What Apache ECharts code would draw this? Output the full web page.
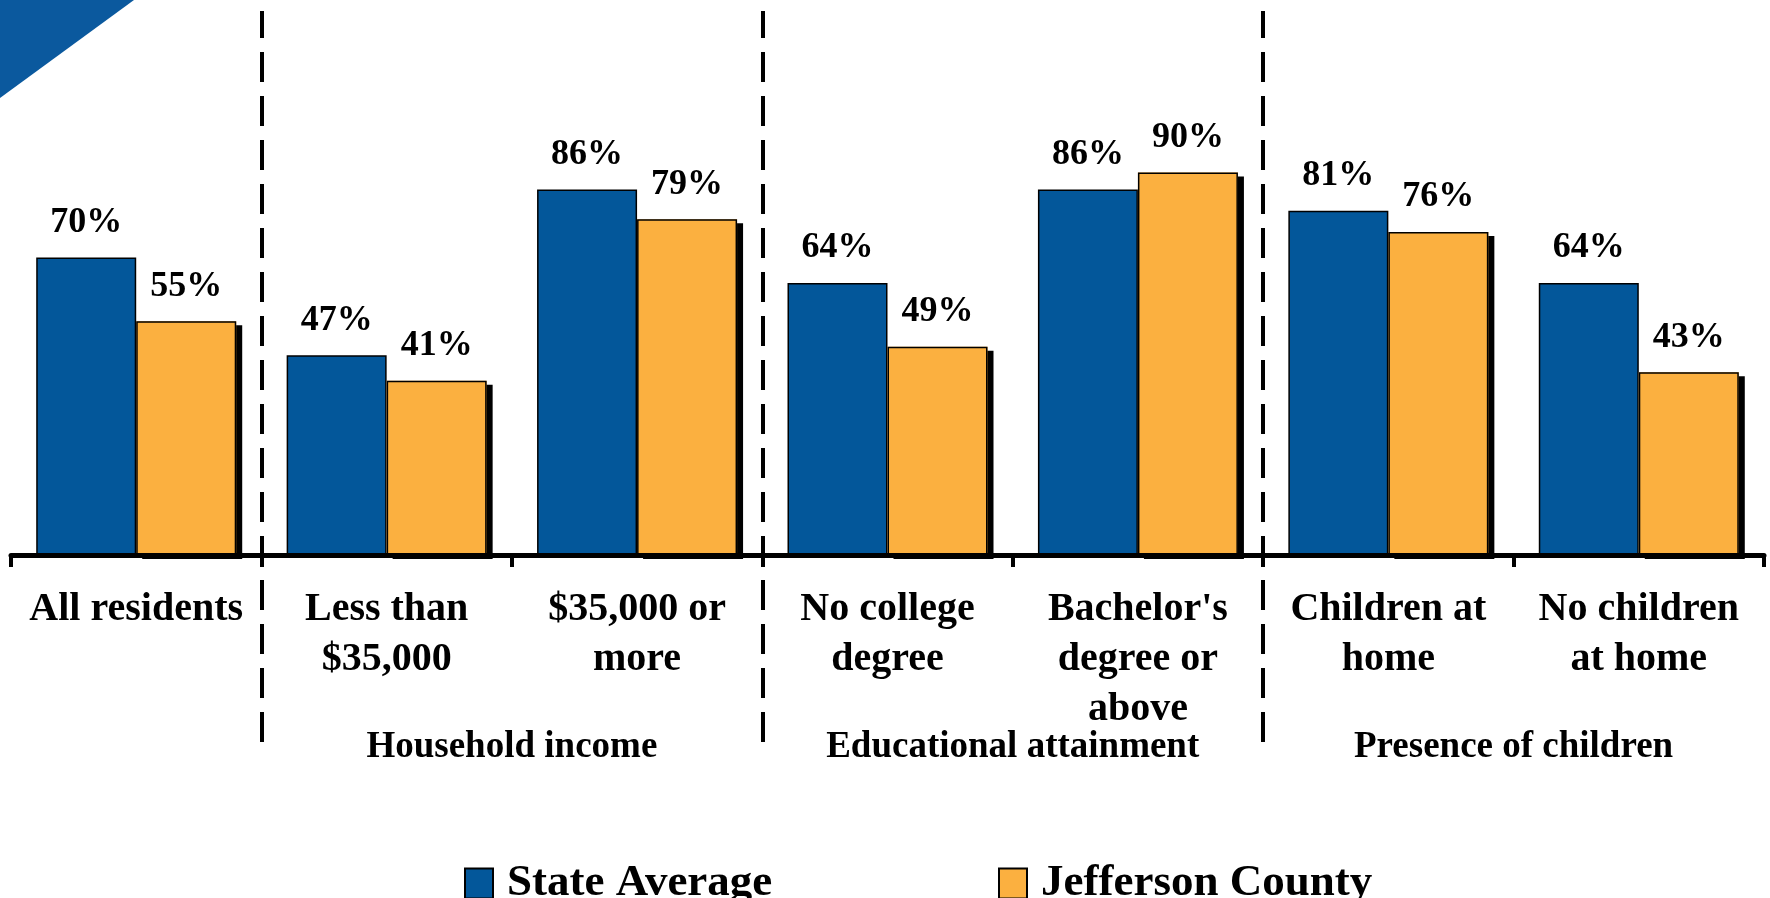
<!DOCTYPE html>
<html>
<head>
<meta charset="utf-8">
<script src="https://cdn.jsdelivr.net/npm/echarts@6/dist/echarts.min.js"></script>
<style>
html,body{margin:0;padding:0;background:#fff;}
#chart{width:1770px;height:898px;}
</style>
</head>
<body>
<div id="chart"></div>
<script>
// ---- data ----
const categories = [
  'All residents',
  'Less than\n$35,000',
  '$35,000 or\nmore',
  'No college\ndegree',
  "Bachelor's\ndegree or\nabove",
  'Children at\nhome',
  'No children\nat home'
];
const categoryGroup = [
  '',
  'Household income', 'Household income',
  'Educational attainment', 'Educational attainment',
  'Presence of children', 'Presence of children'
];
const stateAverage = [70, 47, 86, 64, 86, 81, 64];
const jeffersonCounty = [55, 41, 79, 49, 90, 76, 43];
const seriesNames = ['State Average', 'Jefferson County'];

// ---- derived: group centres and boundaries on a 0..N scale ----
const groupCenters = {};
const groupStarts = [];
(function () {
  let i = 0;
  while (i < categoryGroup.length) {
    let j = i;
    while (j + 1 < categoryGroup.length && categoryGroup[j + 1] === categoryGroup[i]) j++;
    if (categoryGroup[i]) groupCenters[(i + j + 1) / 2] = categoryGroup[i];
    if (i > 0) groupStarts.push(i);
    i = j + 1;
  }
})();

const FONT = "'Liberation Serif', 'Times New Roman', serif";
const BLUE = '#03579A';
const ORANGE = '#FBB040';

const labelStyle = {
  show: true, position: 'top', distance: 17,
  formatter: '{c}%',
  fontFamily: FONT, fontWeight: 'bold', fontSize: 36, color: '#000'
};
const legendCommon = {
  itemWidth: 28, itemHeight: 30,
  icon: 'rect',
  itemStyle: { borderColor: '#000', borderWidth: 2, shadowBlur: 0, shadowOffsetX: 0, shadowOffsetY: 0, shadowColor: 'rgba(0,0,0,0)' },
  textStyle: { fontFamily: FONT, fontWeight: 'bold', fontSize: 45, color: '#000', padding: [0, 0, 0, 9] }
};

const chart = echarts.init(document.getElementById('chart'));
chart.setOption({
  backgroundColor: '#ffffff',
  animation: false,
  graphic: [{
    type: 'polygon',
    z: -1,
    shape: { points: [[0, 0], [134, 0], [0, 98]] },
    style: { fill: '#0B599E' }
  }],
  legend: [
    Object.assign({ data: [seriesNames[0]], left: 459, top: 856 }, legendCommon),
    Object.assign({ data: [seriesNames[1]], left: 993, top: 856 }, legendCommon)
  ],
  grid: [
    { left: 11, right: 6, top: 130, bottom: 343 },
    { left: 11, right: 6, top: 11, bottom: 156 }
  ],
  xAxis: [{
    type: 'category',
    gridIndex: 0,
    data: categories,
    z: 3,
    axisLine: { show: true, lineStyle: { color: '#000', width: 5 } },
    axisTick: { show: true, interval: 0, length: 12, lineStyle: { color: '#000', width: 4 } },
    axisLabel: {
      interval: 0, margin: 30,
      fontFamily: FONT, fontWeight: 'bold', fontSize: 40, lineHeight: 50, color: '#000'
    },
    splitLine: { show: false }
  }, {
    type: 'value',
    gridIndex: 1,
    min: 0, max: categories.length,
    show: false
  }, {
    type: 'value',
    gridIndex: 0,
    min: 0, max: categories.length, interval: 0.5,
    position: 'bottom',
    offset: 170,
    axisLine: { show: false },
    axisTick: { show: false },
    splitLine: { show: false },
    axisLabel: {
      margin: 4,
      fontFamily: FONT, fontWeight: 'bold', fontSize: 37, color: '#000',
      formatter: function (v) { return groupCenters[v] || ''; }
    }
  }, {
    // overlay axis (same categories) used to draw the bar outlines above the shadows
    type: 'category',
    gridIndex: 0,
    data: categories,
    show: false
  }],
  yAxis: [
    { type: 'value', gridIndex: 0, min: 0, max: 100, show: false },
    { type: 'value', gridIndex: 1, min: 0, max: 100, show: false }
  ],
  series: [{
    name: seriesNames[0],
    type: 'bar',
    xAxisIndex: 0, yAxisIndex: 0,
    data: stateAverage,
    barWidth: 100,
    barGap: '0%',
    itemStyle: { color: BLUE, borderColor: '#000', borderWidth: 1.5 },
    label: labelStyle
  }, {
    name: seriesNames[1],
    type: 'bar',
    xAxisIndex: 0, yAxisIndex: 0,
    data: jeffersonCounty,
    barWidth: 100,
    barGap: '0%',
    itemStyle: {
      color: ORANGE, borderWidth: 0,
      shadowColor: '#000', shadowBlur: 0, shadowOffsetX: 6, shadowOffsetY: 4
    },
    label: labelStyle
  }, {
    name: 'outline-a',
    type: 'bar',
    xAxisIndex: 3, yAxisIndex: 0,
    data: stateAverage,
    barWidth: 100,
    barGap: '0%',
    silent: true,
    z: 3,
    itemStyle: { color: 'rgba(0,0,0,0)', borderWidth: 0 }
  }, {
    name: 'outline-b',
    type: 'bar',
    xAxisIndex: 3, yAxisIndex: 0,
    data: jeffersonCounty,
    barWidth: 100,
    barGap: '0%',
    silent: true,
    z: 3,
    itemStyle: { color: 'rgba(0,0,0,0)', borderColor: '#000', borderWidth: 1.5 }
  }, {
    name: 'separators',
    type: 'scatter',
    xAxisIndex: 1, yAxisIndex: 1,
    data: [],
    silent: true,
    markLine: {
      silent: true,
      symbol: ['none', 'none'],
      label: { show: false },
      lineStyle: { color: '#000', width: 4, type: [30, 14] },
      data: groupStarts.map(function (v) { return { xAxis: v }; })
    }
  }]
});
</script>
</body>
</html>
